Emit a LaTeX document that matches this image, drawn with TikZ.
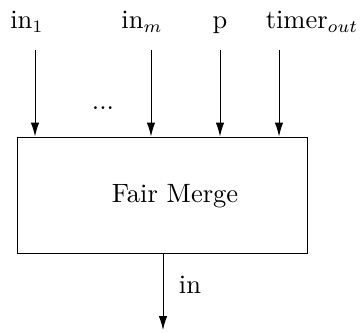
\documentclass[tikz,border=0pt]{standalone}
\usepackage{tikz}
\usetikzlibrary{arrows.meta}

\begin{document}
\begin{tikzpicture}[x=0.4pt, y=-0.4pt, line width=0.4pt,
  font=\fontsize{10.6}{13}\selectfont,
  flow/.style={-{Latex[length=5.6pt,width=3.4pt]}},
  lbl/.style={anchor=base, inner sep=0pt}]
\useasboundingbox (0,0) rectangle (360,333);
\node[draw, minimum width=115.6pt, minimum height=46.4pt] (merge) at (162.5,195) {};
\node[lbl] (title) at (175,202) {Fair Merge};
\foreach \x/\n in {35/a, 151/b, 220/c, 279/d}
  \coordinate (\n) at (\x,50);
\foreach \n in {a, b, c, d}
  \draw[flow] (\n) -- (\n |- merge.north);
\node[lbl] (ina) at (27,28) {in$_1$};
\node[lbl] (inb) at (142,28) {in$_m$};
\node[lbl] (inc) at (220,28) {p};
\node[lbl] (ind) at (312,28) {timer$_{out}$};
\node[lbl] (dots) at (103,109) {...};
\coordinate (out) at (163,330);
\draw[flow] (merge.south -| out) -- (out);
\node[lbl] (inout) at (190,293) {in};
\end{tikzpicture}
\end{document}
